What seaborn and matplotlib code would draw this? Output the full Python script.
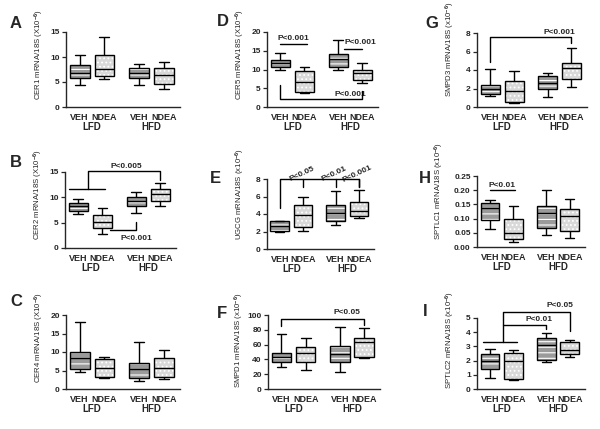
import matplotlib
matplotlib.use("Agg")
import matplotlib.pyplot as plt
from matplotlib.patches import PathPatch
import seaborn as sns
import pandas as pd
import numpy as np

# x layout: two VEH/NDEA pairs, LFD then HFD
groups = ["VEH", "NDEA", "VEH", "NDEA"]
diets = ["LFD", "HFD"]
positions = [0, 1, 2.4, 3.4]

# five-number summaries: min, q1, median, q3, max
cer1 = [[4.5, 5.85, 6.9, 8.5, 10.4], [5.7, 6.3, 7.7, 10.5, 14.0],
        [4.5, 5.85, 6.8, 7.9, 8.7], [3.7, 4.6, 6.4, 7.9, 9.1]]
cer2 = [[6.7, 7.4, 8.2, 8.8, 9.6], [2.85, 3.9, 5.2, 6.6, 7.8],
        [7.0, 8.2, 9.3, 10.0, 11.0], [8.3, 9.2, 10.6, 11.6, 12.8]]
cer4 = [[4.5, 5.3, 8.4, 10.0, 18.1], [2.9, 3.3, 5.6, 8.0, 8.7],
        [2.15, 2.9, 5.3, 7.1, 12.7], [2.6, 3.3, 5.6, 8.4, 10.5]]
cer5 = [[9.9, 10.8, 11.8, 12.6, 14.5], [3.8, 4.0, 6.7, 9.7, 10.8],
        [10.0, 10.8, 12.7, 14.2, 17.9], [6.5, 7.2, 9.0, 9.9, 11.7]]
ugcg = [[1.95, 2.1, 2.6, 3.2, 3.25], [2.1, 2.55, 3.9, 5.0, 6.0],
        [2.75, 3.25, 4.15, 5.0, 6.6], [3.5, 3.8, 4.4, 5.4, 6.8]]
smpd1 = [[30, 37, 43.5, 49, 75], [25.5, 36, 49, 57, 69.5],
         [23, 36, 47, 58, 84], [42, 43.5, 64, 69.5, 82]]
smpd3 = [[1.2, 1.45, 1.9, 2.33, 4.07], [0.47, 0.55, 1.75, 2.8, 3.85],
         [1.1, 1.9, 2.6, 3.35, 3.7], [2.2, 3.0, 4.2, 4.8, 6.36]]
sptlc1 = [[0.065, 0.095, 0.136, 0.156, 0.164], [0.019, 0.028, 0.051, 0.098, 0.145],
          [0.043, 0.066, 0.121, 0.146, 0.202], [0.030, 0.058, 0.109, 0.133, 0.170]]
sptlc2 = [[0.75, 1.43, 1.96, 2.45, 2.85], [0.63, 0.7, 1.94, 2.57, 2.78],
          [1.92, 2.03, 3.08, 3.62, 3.97], [2.27, 2.45, 2.73, 3.3, 3.48]]

sns.set_style("ticks")
plt.rcParams["font.family"] = ["Liberation Sans", "DejaVu Sans"]
plt.rcParams["font.weight"] = "bold"
plt.rcParams["mathtext.fontset"] = "custom"
plt.rcParams["mathtext.bf"] = "Liberation Sans:bold"
plt.rcParams["mathtext.rm"] = "Liberation Sans:bold"
plt.rcParams["mathtext.default"] = "bf"
plt.rcParams["hatch.linewidth"] = 0.8

W, H = 600, 429
fig = plt.figure(figsize=(6, 4.29), dpi=100)

# letter, data, y label, ymax, yticks, axes box in pixels (l, r, top, bottom),
# label offsets (left, up), letter pos
panels = [
    ("A", cer1, "CER1 mRNA/18S (X10$^{-6}$)", 15, [0, 5, 10, 15], (66, 180, 32, 107), (20, 7), (10, 16)),
    ("B", cer2, "CER2 mRNA/18S (X10$^{-6}$)", 15, [0, 5, 10, 15], (65, 176, 172, 248), (20, 8), (10, 155)),
    ("C", cer4, "CER4 mRNA/18S (X10$^{-6}$)", 20, [0, 5, 10, 15, 20], (66, 180, 315, 389), (20, 6), (10, 294)),
    ("D", cer5, "CER5 mRNA/18S (X10$^{-6}$)", 20, [0, 5, 10, 15, 20], (267, 378, 32, 107), (20, 7), (217, 14)),
    ("E", ugcg, "UGCG mRNA/18S (x10$^{-6}$)", 8, [0, 2, 4, 6, 8], (267, 374, 179, 249), (20, 9), (210, 171)),
    ("F", smpd1, "SMPD1 mRNA/18S (x10$^{-6}$)", 100, [0, 20, 40, 60, 80, 100], (268, 380, 315, 389), (22, 1), (217, 306)),
    ("G", smpd3, "SMPD3 mRNA/18S (x10$^{-6}$)", 8, [0, 2, 4, 6, 8], (477, 587, 33, 107), (20, 10), (425, 16)),
    ("H", sptlc1, "SPTLC1 mRNA/18S (x10$^{-6}$)", 0.25, [0, 0.05, 0.10, 0.15, 0.20, 0.25], (477, 585, 176, 247), (31, 7), (419, 171)),
    ("I", sptlc2, "SPTLC2 mRNA/18S (x10$^{-6}$)", 5, [0, 1, 2, 3, 4, 5], (477, 585, 318, 389), (20, 0), (423, 304)),
]

axs = {}
for letter, stats, ylab, ymax, yticks, (l, r, t, b), (lo_x, lo_y), (lx, ly) in panels:
    ax = fig.add_axes([l / W, 1 - b / H, (r - l) / W, (b - t) / H])
    df = pd.DataFrame({"pos": np.repeat(positions, 5), "val": np.concatenate(stats)})
    sns.boxplot(data=df, x="pos", y="val", native_scale=True, whis=(0, 100), width=0.8,
                color="white", linecolor="black", linewidth=1.0, fliersize=0, ax=ax)
    # striped fill for VEH, dotted fill for NDEA
    for i, p in enumerate(list(ax.patches)):
        veh = i % 2 == 0
        tr = p.get_transform()
        ax.add_patch(PathPatch(p.get_path(), transform=tr, fc="#9a9a9a" if veh else "#d9d9d9",
                               lw=0, zorder=p.get_zorder() - 0.2))
        ax.add_patch(PathPatch(p.get_path(), transform=tr, fc="none", ec="white", lw=0,
                               hatch="---" if veh else "....", zorder=p.get_zorder() - 0.1))
        p.set_facecolor("none")
    ax.set_xlim(-0.55, 4.05)
    ax.set_ylim(0, ymax)
    ax.set_yticks(yticks)
    if ymax < 1:
        ax.set_yticklabels([f"{v:.2f}" for v in yticks])
    ax.set_xticks(positions, groups)
    ax.tick_params(axis="x", length=0, pad=4, labelsize=6.5)
    ax.tick_params(axis="y", length=3, width=0.9, pad=1.5, labelsize=6)
    for s in ["left", "bottom"]:
        ax.spines[s].set_linewidth(1.0)
    sns.despine(ax=ax)
    ax.set_xlabel("")
    ax.set_ylabel(ylab, fontsize=5.6, ha="left")
    ax.yaxis.set_label_coords(-lo_x / (r - l), lo_y / (b - t))
    for x, d in zip([0.5, 2.9], diets):
        ax.annotate(d, xy=(x, 0), xycoords=("data", "axes fraction"), xytext=(0, -14.5),
                    textcoords="offset points", ha="center", va="center", fontsize=7)
    fig.text(lx / W, 1 - ly / H, letter, fontsize=12, fontweight="bold", ha="left", va="top")
    axs[letter] = ax


def line(ax, xs, ys):
    ax.plot(xs, ys, color="black", lw=1.0, clip_on=False, zorder=5)


def ptext(ax, x, y, s, **kw):
    ax.text(x, y, s, fontsize=6, ha="center", va="center", clip_on=False, **kw)


p0, p1, p2, p3 = positions

ax = axs["B"]
line(ax, [p0 - 0.4, p1 + 0.1], [11.7, 11.7])
line(ax, [0.4, 0.4, p3, p3], [11.7, 15.2, 15.2, 13.4])
ptext(ax, 2.0, 16.1, "P<0.005")
line(ax, [p1 + 0.3, p2, p2], [3.5, 3.5, 5.2])
ptext(ax, p2, 1.9, "P<0.001")

ax = axs["D"]
line(ax, [p0, p1 + 0.1], [16.9, 16.9])
ptext(ax, 0.55, 18.3, "P<0.001")
line(ax, [p2 + 0.25, p3], [15.5, 15.5])
ptext(ax, p3 - 0.1, 17.2, "P<0.001")
line(ax, [p0, p0, p3, p3], [5.8, 2.15, 2.15, 4.3])
ptext(ax, 2.9, 3.3, "P<0.001")

ax = axs["G"]
line(ax, [p0, p0, p3, p3], [4.9, 7.6, 7.6, 6.87])
ptext(ax, 2.9, 8.05, "P<0.001")

ax = axs["E"]
line(ax, [p0, p0, p3, p3], [4.65, 8.0, 8.0, 7.1])
for x, s in zip([p1, p2, p3], ["P<0.05", "P<0.01", "P<0.001"]):
    line(ax, [x, x], [8.0, 7.1])
    ax.text(x, 8.2, s, fontsize=6, ha="center", va="bottom", rotation=25,
            rotation_mode="anchor", clip_on=False)

ax = axs["F"]
line(ax, [p0, p0, p3, p3], [85.5, 94, 94, 86])
ptext(ax, 2.7, 103, "P<0.05")

ax = axs["H"]
line(ax, [p0, p1 + 0.05], [0.2, 0.2])
ptext(ax, 0.5, 0.218, "P<0.01")

ax = axs["I"]
line(ax, [p0 - 0.3, p1 + 0.15], [3.32, 3.32])
line(ax, [0.55, 0.55, p3, p3], [3.32, 5.4, 5.4, 4.1])
line(ax, [0.55, p2, p2], [4.53, 4.53, 4.25])
ptext(ax, 3.0, 5.85, "P<0.05")
ptext(ax, 2.1, 4.88, "P<0.01")

fig.savefig("out.png", dpi=100)
